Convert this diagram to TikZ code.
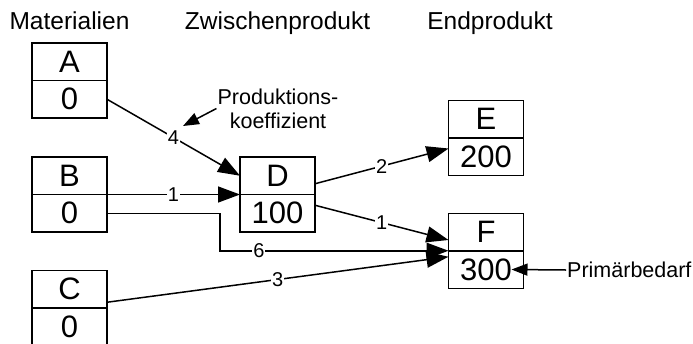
\documentclass[tikz,border=0pt]{standalone}
\usepackage{fontspec}
\setmainfont{Liberation Sans}
\usepackage{tikz}
\usetikzlibrary{arrows.meta}

\tikzset{
    cell/.style = {draw, line width=1.5pt, minimum width=75pt, minimum height=37.5pt,
                   inner sep=0pt, outer sep=0pt, font=\fontsize{31}{31}\selectfont},
    kopf/.style = {font=\fontsize{24.5}{24.5}\selectfont, anchor=base},
    notiz/.style = {font=\fontsize{21.5}{24}\selectfont, align=center, inner sep=1pt},
    koeff/.style = {fill=white, inner sep=1pt, font=\fontsize{20}{20}\selectfont},
    fluss/.style = {line width=1.5pt, -{Triangle[length=22pt, width=16pt]}},
    hinweis/.style = {line width=1.5pt, -{Triangle[length=16pt, width=12pt]}}
}

\begin{document}
\begin{tikzpicture}[x=1pt, y=-1pt]
    \useasboundingbox (0,0) rectangle (693,343);

    % Spaltenköpfe
    \node[kopf] (matk) at (69.5, 29.5) {Materialien};
    \node[kopf] (zwik) at (277.5, 29.5) {Zwischenprodukt};
    \node[kopf] (endk) at (490, 29.5) {Endprodukt};

    % Knoten: oben Name, unten Menge
    \draw
        (69.5,  61.75) node[cell](A){A}
        (69.5,  99.25) node[cell](A0){0}
        (69.5, 175.75) node[cell](B){B}
        (69.5, 213.25) node[cell](B0){0}
        (69.5, 289.25) node[cell](C){C}
        (69.5, 326.75) node[cell](C0){0}
        (277.5, 175.75) node[cell](D){D}
        (277.5, 213.25) node[cell](D0){100}
        (486, 119) node[cell](E){E}
        (486, 156.5) node[cell](E0){200}
        (486, 232) node[cell](F){F}
        (486, 269.5) node[cell](F0){300}
    ;

    % Verflechtung mit Produktionskoeffizienten
    \draw[fluss] (A0.east) -- node[koeff]{4} (D.west);
    \draw[fluss] (B.south east) -- node[koeff]{1} (D.south west);
    \coordinate (knick) at (220, 250.75);
    \draw[fluss] (B0.east) -| (knick) -- node[koeff, pos=0.17]{6} (F.south west);
    \draw[fluss] ([yshift=-13pt]C.east) -- node[koeff]{3} ([yshift=-6pt]F.south west);
    \draw[fluss] ([yshift=-8pt]D.east) -- node[koeff]{2} ([yshift=8pt]E0.west);
    \draw[fluss] ([yshift=8pt]D0.east) -- node[koeff]{1} ([yshift=-8pt]F.west);

    % Beschriftungen
    \node[notiz] (prodk) at (278, 108.5) {Produktions-\\koeffizient};
    \coordinate (prodpt) at (183, 126);
    \draw[hinweis] (prodk.west) -- (prodpt);

    \node[notiz, anchor=west] (prim) at (566, 270) {Primärbedarf};
    \draw[hinweis] (prim.west) -- ([xshift=-12pt]F0.east);
\end{tikzpicture}
\end{document}
